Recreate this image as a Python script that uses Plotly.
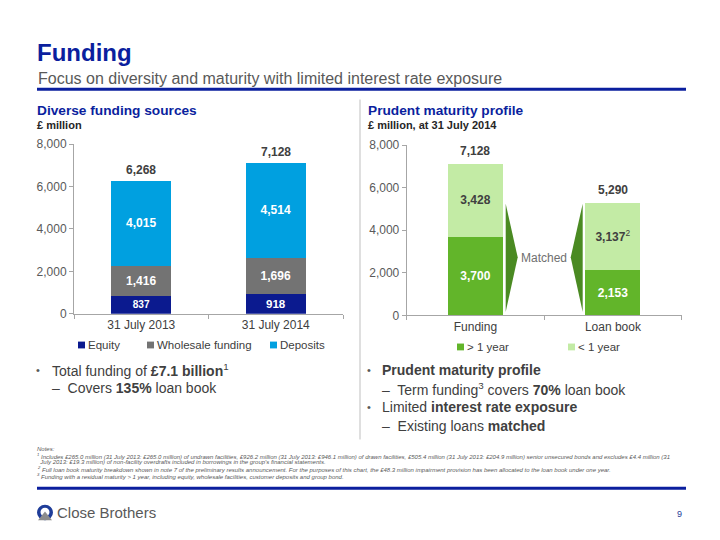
import plotly.graph_objects as go

# ---------------- data ----------------
left_categories = ["31 July 2013", "31 July 2014"]
equity = [837, 918]
wholesale = [1416, 1696]
deposits = [4015, 4514]
left_totals = [6268, 7128]

right_categories = ["Funding", "Loan book"]
over_1y = [3700, 2153]
under_1y = [3428, 3137]
right_totals = [7128, 5290]
under_1y_notes = ["", "2"]

y_ticks = [0, 2000, 4000, 6000, 8000]

FONT = "Arial, Liberation Sans, sans-serif"
BLUE = "#0b1f9e"
C_EQ, C_WH, C_DEP = "#0b1a8f", "#737373", "#00a0e0"
C_DG, C_LG, C_AR = "#62b52a", "#c3eba5", "#4a8a22"
W, H = 720, 540


def px(x):
    return x / W


def py(y):
    return 1 - y / H


fig = go.Figure()

# left stacked bars
for name, vals, col in [("Equity", equity, C_EQ), ("Wholesale funding", wholesale, C_WH),
                        ("Deposits", deposits, C_DEP)]:
    fig.add_trace(go.Bar(
        x=left_categories, y=vals, name=name, marker=dict(color=col, line=dict(width=0)),
        text=[f"<b>{v:,}</b>" for v in vals], textposition="inside", insidetextanchor="middle",
        textfont=dict(color="white", size=12, family=FONT), width=0.446,
        xaxis="x", yaxis="y", showlegend=False))

# right stacked bars
fig.add_trace(go.Bar(
    x=right_categories, y=over_1y, name="> 1 year", marker=dict(color=C_DG, line=dict(width=0)),
    text=[f"<b>{v:,}</b>" for v in over_1y], textposition="inside", insidetextanchor="middle",
    textfont=dict(color="white", size=12, family=FONT), width=0.4,
    xaxis="x2", yaxis="y2", showlegend=False))
fig.add_trace(go.Bar(
    x=right_categories, y=under_1y, name="< 1 year", marker=dict(color=C_LG, line=dict(width=0)),
    text=[f"<b>{v:,}</b>" + (f"<sup>{n}</sup>" if n else "") for v, n in zip(under_1y, under_1y_notes)],
    textposition="inside", insidetextanchor="middle",
    textfont=dict(color="#404040", size=12, family=FONT), width=0.4,
    xaxis="x2", yaxis="y2", showlegend=False))

ax_common = dict(showgrid=False, zeroline=False, showline=True, linecolor="#a6a6a6", linewidth=1,
                 ticks="outside", ticklen=4, tickcolor="#a6a6a6",
                 tickfont=dict(size=12, color="#595959", family=FONT), fixedrange=True)

fig.update_layout(
    width=W, height=H, margin=dict(l=0, r=0, t=0, b=0),
    paper_bgcolor="white", plot_bgcolor="white", barmode="stack",
    font=dict(family=FONT, color="#404040"),
    xaxis=dict(domain=[px(74), px(343)], anchor="y", tickson="boundaries",
               **{**ax_common, "tickfont": dict(size=12, color="#404040", family=FONT)}),
    yaxis=dict(domain=[py(315), py(140.7)], anchor="x", range=[0, 8000], tickvals=y_ticks,
               tickformat=",", **ax_common),
    xaxis2=dict(domain=[px(406.7), px(681.7)], anchor="y2", tickson="boundaries",
                **{**ax_common, "tickfont": dict(size=12, color="#404040", family=FONT)}),
    yaxis2=dict(domain=[py(316.7), py(141.7)], anchor="x2", range=[0, 8000], tickvals=y_ticks,
                tickformat=",", **ax_common),
)

ann = []
# totals
for c, t in zip(left_categories, left_totals):
    ann.append(dict(x=c, y=t, xref="x", yref="y", text=f"<b>{t:,}</b>", showarrow=False,
                    yanchor="bottom", yshift=2, font=dict(size=12, color="#404040")))
for c, t in zip(right_categories, right_totals):
    ann.append(dict(x=c, y=t, xref="x2", yref="y2", text=f"<b>{t:,}</b>", showarrow=False,
                    yanchor="bottom", yshift=4, font=dict(size=12, color="#404040")))


def txt(x, y, text, size=12, color="#404040", anchor="left", **kw):
    ann.append(dict(x=px(x), y=py(y), xref="paper", yref="paper", text=text, showarrow=False,
                    xanchor=anchor, yanchor="middle", font=dict(size=size, color=color, family=FONT), **kw))


# titles
txt(35, 47, "<b>Funding</b>", 24, BLUE)
txt(36, 73, "Focus on diversity and maturity with limited interest rate exposure", 16, "#595959")
txt(35, 106, "<b>Diverse funding sources</b>", 13.7, BLUE)
txt(35, 121, "<b>£ million</b>", 11, "#262626")
txt(366, 106, "<b>Prudent maturity profile</b>", 13.7, BLUE)
txt(366, 121, "<b>£ million, at 31 July 2014</b>", 11, "#262626")
txt(544, 258, "Matched", 12, "#6f6f6f", anchor="center")

# legend texts
legend_items = [(78, 347, "Equity", C_EQ), (147, 347, "Wholesale funding", C_WH), (270, 347, "Deposits", C_DEP),
                (457, 349, "> 1 year", C_DG), (568, 349, "< 1 year", C_LG)]
for x, y, t, c in legend_items:
    txt(x + 8, y, t, 11.5, "#404040")

# bullets
for bx, by in [(34, 373), (365, 373), (365, 411)]:
    txt(bx, by, "•", 11, "#595959")
txt(50, 373, "Total funding of <b>£7.1 billion</b><sup>1</sup>", 14, "#404040")
txt(50, 391, "–  Covers <b>135%</b> loan book", 14, "#404040")
txt(380, 373, "<b>Prudent maturity profile</b>", 14, "#404040")
txt(380, 392, "–  Term funding<sup>3</sup> covers <b>70%</b> loan book", 14, "#404040")
txt(380, 411, "Limited <b>interest rate exposure</b>", 14, "#404040")
txt(380, 430, "–  Existing loans <b>matched</b>", 14, "#404040")

# notes
note_lines = [
    (454, "<i>Notes:</i>"),
    (461, "<i><sup>1</sup> Includes £265.0 million (31 July 2013: £265.0 million) of undrawn facilities, £926.2 million (31 July 2013: £946.1 million) of drawn facilities, £505.4 million (31 July 2013: £204.9 million) senior unsecured bonds and excludes £4.4 million (31</i>"),
    (467, "<i>  July 2013: £19.3 million) of non-facility overdrafts included in borrowings in the group's financial statements.</i>"),
    (474, "<i><sup>2</sup> Full loan book maturity breakdown shown in note 7 of the preliminary results announcement. For the purposes of this chart, the £48.3 million impairment provision has been allocated to the loan book under one year.</i>"),
    (481, "<i><sup>3</sup> Funding with a residual maturity > 1 year, including equity, wholesale facilities, customer deposits and group bond.</i>"),
]
for y, t in note_lines:
    txt(35, y, t, 6, "#595959")

txt(55, 519, "Close Brothers", 15, "#595959")
txt(684, 520, "9", 9, "#1f3d99", anchor="right")

fig.update_layout(annotations=ann)

shapes = []
# rules
shapes.append(dict(type="line", xref="paper", yref="paper", x0=px(37), x1=px(686), y0=py(84.5), y1=py(84.5),
                   line=dict(color=BLUE, width=3)))
shapes.append(dict(type="line", xref="paper", yref="paper", x0=px(37), x1=px(686), y0=py(494), y1=py(494),
                   line=dict(color=BLUE, width=3)))
shapes.append(dict(type="line", xref="paper", yref="paper", x0=px(360), x1=px(360), y0=py(95), y1=py(444),
                   line=dict(color="#bfbfbf", width=1)))
# legend squares
for x, y, t, c in legend_items:
    shapes.append(dict(type="rect", xref="paper", yref="paper", x0=px(x), x1=px(x + 7), y0=py(y + 3.5),
                       y1=py(y - 3.5), fillcolor=c, line=dict(width=0)))
# arrows
shapes.append(dict(type="path", xref="paper", yref="paper",
                   path=f"M {px(505.7)} {py(202)} L {px(517.7)} {py(257)} L {px(505.7)} {py(313)} Z",
                   fillcolor=C_AR, line=dict(width=0)))
shapes.append(dict(type="path", xref="paper", yref="paper",
                   path=f"M {px(582.7)} {py(202)} L {px(570.7)} {py(257)} L {px(582.7)} {py(313)} Z",
                   fillcolor=C_AR, line=dict(width=0)))
# logo
shapes.append(dict(type="circle", xref="paper", yref="paper", x0=px(37), x1=px(53), y0=py(527), y1=py(511),
                   fillcolor="#1f3d99", line=dict(width=0)))
shapes.append(dict(type="circle", xref="paper", yref="paper", x0=px(40.5), x1=px(49.5), y0=py(523), y1=py(514),
                   fillcolor="white", line=dict(width=0)))
shapes.append(dict(type="path", xref="paper", yref="paper",
                   path=f"M {px(38)} {py(527)} L {px(45)} {py(518)} L {px(52)} {py(527)} Z",
                   fillcolor="#8c8c8c", line=dict(width=0)))
fig.update_layout(shapes=shapes)

fig.write_html("out.html", config={"displayModeBar": False},
               post_script="document.body.style.margin='0';document.body.style.overflow='hidden';")
